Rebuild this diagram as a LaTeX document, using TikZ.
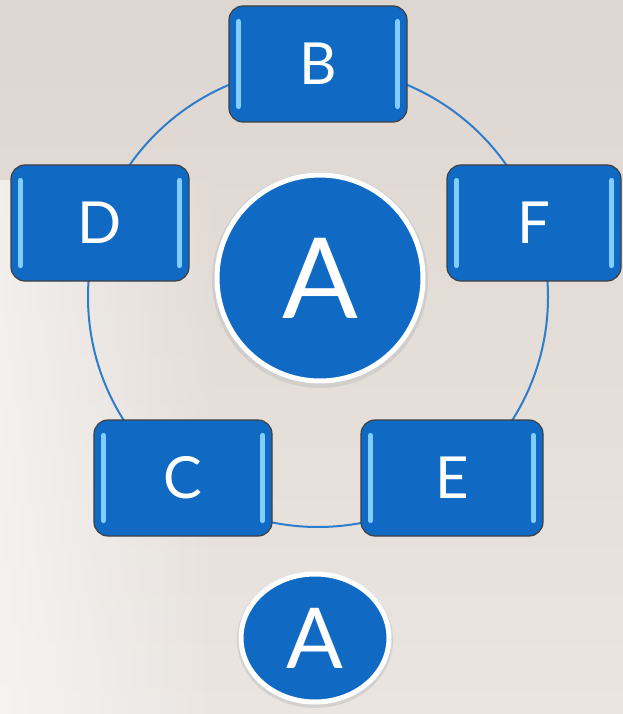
\documentclass[tikz,border=0pt]{standalone}
\usepackage{fontspec}
\setmainfont{Lato}
\usetikzlibrary{fadings}
\definecolor{boxblue}{RGB}{16,106,196}
\definecolor{ringblue}{RGB}{45,125,205}
\definecolor{hilite}{RGB}{130,205,255}
\definecolor{bgA}{RGB}{234,229,225}
\definecolor{bgB}{RGB}{222,214,208}
\begin{document}
\begin{tikzpicture}[x=1pt,y=-1pt,
  blk/.style={draw=black!75, line width=1.2pt, fill=boxblue, rounded corners=14pt,
    minimum width=178pt, minimum height=116pt, text=white, font=\fontsize{58}{58}\selectfont, inner sep=0pt},
  bigc/.style={circle, draw=white, line width=5pt, fill=boxblue, text=white, inner sep=0pt},
  ring/.style={draw=ringblue, line width=2pt},
  bar/.style={draw=hilite, line width=5pt, line cap=round}]
\useasboundingbox (0,0) rectangle (623,714);
\shade[top color=bgB, bottom color=bgA] (0,0) rectangle (623,714);
\fill[white, opacity=0.55, path fading=east] (0,180) rectangle (220,714);
% ring
\coordinate (ringc) at (318,297);
\draw[ring] (ringc) circle[radius=230];
% boxes
\node[blk] (B) at (318,64) {B};
\node[blk] (D) at (100,223) {D};
\node[blk, minimum width=174pt] (F) at (534,223) {F};
\node[blk] (C) at (183,478) {C};
\node[blk, minimum width=182pt] (E) at (452,478) {E};
\foreach \n in {B,D,F,C,E}{
  \draw[bar] ([xshift=10pt,yshift=-16pt]\n.north west) -- ([xshift=10pt,yshift=16pt]\n.south west);
  \draw[bar] ([xshift=-10pt,yshift=-16pt]\n.north east) -- ([xshift=-10pt,yshift=16pt]\n.south east);
}
% circles
\fill[black!25, opacity=0.5] (320,280) circle[radius=108];
\node[bigc, minimum size=206pt, font=\fontsize{112}{112}\selectfont] (A1) at (320,278) {A};
\fill[black!25, opacity=0.5] (315,640) ellipse[x radius=78, y radius=68];
\draw[white, line width=5pt, fill=boxblue] (315,638) ellipse[x radius=74, y radius=64];
\node[text=white, font=\fontsize{84}{84}\selectfont] (A2) at (315,638) {A};
\end{tikzpicture}
\end{document}
